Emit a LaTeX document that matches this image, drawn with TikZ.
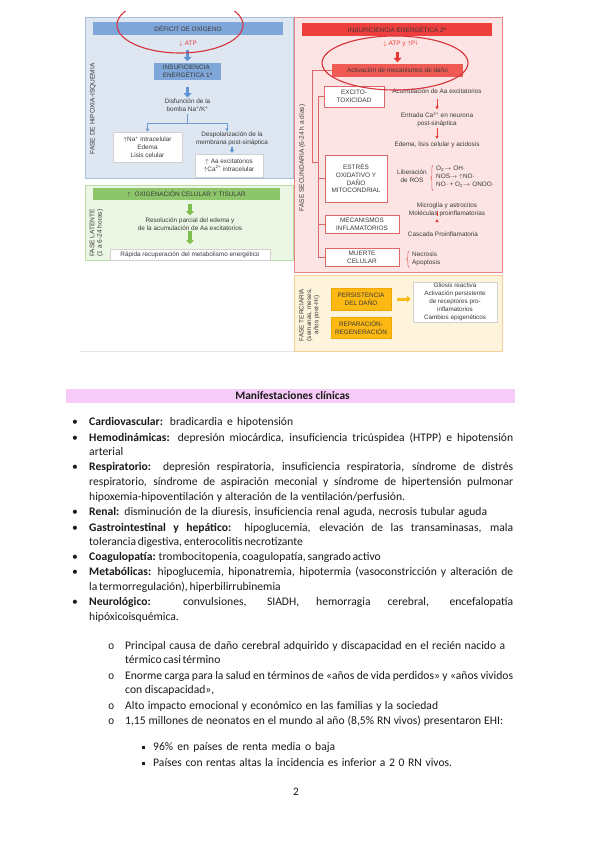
\documentclass[tikz,border=0pt]{standalone}
\usepackage{fontspec}
\setmainfont{Carlito}
\newfontfamily\dfont{Liberation Sans}
\newfontfamily\monof{Liberation Mono}
\usetikzlibrary{arrows.meta,decorations.pathreplacing,calc}
\definecolor{bluePanel}{HTML}{DDE6F1}
\definecolor{blueBorder}{HTML}{A8BFDC}
\definecolor{blueBar}{HTML}{7FA6D8}
\definecolor{blueArrow}{HTML}{5E93D4}
\definecolor{blueLine}{HTML}{6D9DD4}
\definecolor{greenPanel}{HTML}{ECF6E4}
\definecolor{greenBorder}{HTML}{B8DCA2}
\definecolor{greenBar}{HTML}{8DC66A}
\definecolor{greenArrow}{HTML}{7DC04E}
\definecolor{pinkPanel}{HTML}{FCE4E4}
\definecolor{pinkBorder}{HTML}{E68585}
\definecolor{redBar}{HTML}{EF3E3E}
\definecolor{actRed}{HTML}{F05A55}
\definecolor{redText}{HTML}{E53935}
\definecolor{redLine}{HTML}{DD6666}
\definecolor{ellRed}{HTML}{D6333A}
\definecolor{tertPanel}{HTML}{FEF3DB}
\definecolor{tertBorder}{HTML}{F3CF97}
\definecolor{orangeBox}{HTML}{FCB813}
\definecolor{orangeBorder}{HTML}{F0A800}
\definecolor{txtc}{HTML}{3A3A3A}
\definecolor{bodyc}{HTML}{1A1A1A}
\definecolor{pinkBand}{HTML}{F7CBF7}
\begin{document}
\begin{tikzpicture}[x=1pt,y=-1pt,
  lbl/.style={font=\dfont\fontsize{6.4}{7.8}\selectfont, text=txtc, inner sep=0pt, align=center},
  bar/.style={lbl, minimum height=13pt},
  wbox/.style={lbl, draw=black!18, fill=white, line width=0.5pt},
  rwbox/.style={lbl, draw=redLine, fill=white, line width=0.6pt},
  obox/.style={lbl, draw=orangeBorder, fill=orangeBox, line width=0.5pt},
  bigarr/.style={line width=3.2pt, -{Triangle[width=8pt,length=4.5pt]}},
  thinarr/.style={line width=0.6pt, -{Triangle[width=3.2pt,length=3pt]}},
  rbrace/.style={redLine, line width=0.6pt, decorate, decoration={brace, amplitude=2.2pt}},
  ln/.style={anchor=west, inner sep=0pt, text height=8pt, text depth=2.2pt, font=\fontsize{11.6}{13}\selectfont, text=bodyc},
  bul/.style={ln},
  obul/.style={ln, font=\monof\fontsize{10.5}{12}\selectfont},
]
\useasboundingbox (0,0) rectangle (599,848);
\fill[white] (0,0) rectangle (599,848);

% ---------------- figure -----------------
\draw[black!10, line width=0.6pt] (80,351.5) -- (294,351.5);

% blue panel
\draw[fill=bluePanel, draw=blueBorder, line width=0.6pt] (85,17) rectangle (293,178);
\node[bar, fill=blueBar, minimum width=190pt] (def) at (188,28.5) {DÉFICIT DE OXÍGENO};
\node[lbl, text=redText] (atp1) at (188,44) {$\downarrow$ ATP};
\node[bar, fill=blueBar, minimum width=67pt, minimum height=17pt, align=left] (ins1) at (187.5,71.5) {INSUFICIENCIA\\ENERGÉTICA 1ª};
\draw[bigarr, blueArrow, shorten <=3.5pt, shorten >=1.5pt] (atp1.south -| ins1.north) -- (ins1.north);
\node[lbl] (disf) at (187.5,105.5) {Disfunción de la\\bomba Na\textsuperscript{+}/K\textsuperscript{+}};
\draw[bigarr, blueArrow, shorten <=6.5pt, shorten >=1.5pt] (ins1.south) -- (ins1.south |- disf.north);
\node[wbox, minimum width=69pt, minimum height=30pt] (lbox) at (147.5,147) {$\uparrow$Na\textsuperscript{+} intracelular\\Edema\\Lisis celular};
\node[lbl] (desp) at (232,138.5) {Despolarización de la\\membrana post-sináptica};
\coordinate (bj) at (187.5,123);
\coordinate (bjr) at (227,123);
\draw[blueLine, line width=0.6pt, shorten <=2pt] (disf.south) -- (bj);
\draw[blueLine, line width=0.6pt] (bj -| lbox.north) -- (bjr);
\draw[thinarr, blueLine] (bj -| lbox.north) -- (lbox.north);
\draw[thinarr, blueLine] (bjr) -- (bjr |- desp.north);
\node[wbox, minimum width=68pt, minimum height=23pt] (rbx) at (229,165.5) {$\uparrow$ Aa excitatorios\\$\uparrow$Ca\textsuperscript{2+} intracelular};
\draw[blueArrow, line width=1.4pt, -{Triangle[width=4.5pt,length=3pt]}, shorten <=1pt, shorten >=1pt] (desp.south) -- (desp.south |- rbx.north);
\node[lbl, rotate=90, font=\dfont\fontsize{6.6}{8}\selectfont] (fh) at (93,109) {FASE DE HIPOXIA-ISQUEMIA};

% green panel
\draw[fill=greenPanel, draw=greenBorder, line width=0.6pt] (85,185) rectangle (293,260.5);
\node[bar, fill=greenBar, minimum width=187pt, minimum height=12pt] (oxi) at (186.5,194) {$\uparrow$\ \ OXIGENACIÓN CELULAR Y TISULAR};
\node[lbl] (resol) at (190,224.5) {Resolución parcial del edema y\\de la acumulación de Aa excitatorios};
\node[wbox, minimum width=160pt, minimum height=11pt] (rap) at (190,254.5) {Rápida recuperación del metabolismo energético};
\draw[bigarr, greenArrow, shorten <=4pt, shorten >=2.5pt] (oxi.south -| resol.north) -- (resol.north);
\draw[bigarr, greenArrow, shorten <=0.5pt, shorten >=4.5pt] (resol.south) -- (rap.north);
\node[lbl, rotate=90, font=\dfont\fontsize{6.6}{7.6}\selectfont] (fl) at (96.5,233) {FASE LATENTE\\(1 a 6-24 horas)};

% pink panel
\draw[fill=pinkPanel, draw=pinkBorder, line width=0.6pt] (294,17) rectangle (502,272);
\node[bar, fill=redBar, minimum width=190pt] (ins2) at (397,29.5) {INSUFICIENCIA ENERGÉTICA 2ª};
\node[lbl, text=redText] (atp2) at (400,44) {$\downarrow$ ATP y $\uparrow$Pi};
\node[bar, fill=actRed, minimum width=131pt] (act) at (397.5,70.5) {Activación de mecanismos de daño};
\draw[bigarr, redText, shorten <=5pt, shorten >=1.5pt] (atp2.south -| act.north) -- (act.north);
\node[rwbox, minimum width=60pt, minimum height=21pt] (exc) at (354,96.5) {EXCITO-\\TOXICIDAD};
\node[rwbox, minimum width=62pt, minimum height=47pt] (est) at (356,178.5) {ESTRÉS\\OXIDATIVO Y\\DAÑO\\MITOCONDRIAL};
\node[rwbox, minimum width=74pt, minimum height=18pt] (meca) at (362,224) {MECANISMOS\\INFLAMATORIOS};
\node[rwbox, minimum width=74pt, minimum height=18pt] (muer) at (362,257) {MUERTE\\CELULAR};
\coordinate (ko) at (312,162);
\coordinate (bjoin) at (318,162);
\draw[redLine, line width=0.6pt] (act.west) -| (ko) -- (bjoin);
\draw[redLine, line width=0.6pt] (exc.west) -- (exc.west -| bjoin) -- (muer.west -| bjoin) -- (muer.west);
\draw[redLine, line width=0.6pt] (est.west) -- (est.west -| bjoin);
\draw[redLine, line width=0.6pt] (meca.west) -- (meca.west -| bjoin);

\node[lbl] (acum) at (437,91) {Acumulación de Aa excitatorios};
\node[lbl] (entr) at (437,119.5) {Entrada Ca\textsuperscript{2+} en neurona\\post-sináptica};
\node[lbl] (edem) at (437,145) {Edema, lisis celular y acidosis};
\draw[thinarr, redText, shorten <=5pt, shorten >=2.5pt] (acum.south) -- (entr.north);
\draw[thinarr, redText, shorten <=1pt, shorten >=3pt] (entr.south) -- (edem.north);

\node[lbl] (lib) at (412,176.5) {Liberación\\de ROS};
\node[lbl, align=left, anchor=west] (ros) at (436,177) {O\textsubscript{2}$\rightarrow$ OH·\\NOS$\rightarrow$ $\uparrow$NO·\\NO· + O\textsubscript{2}$\rightarrow$ ONOO·};
\draw[rbrace] ($(ros.south west)+(-3,3)$) -- ($(ros.north west)+(-3,-1)$);

\node[lbl] (micro) at (447,209.5) {Microglía y astrocitos\\Moléculas proinflamatorias};
\node[lbl] (casc) at (443,234.5) {Cascada Proinflamatoria};
\draw[thinarr, redText, shorten <=1pt, shorten >=2.5pt] (micro.south -| acum.south) -- (micro.south -| acum.south |- casc.north);

\node[lbl, align=left, anchor=west] (necr) at (412,259) {Necrosis\\Apoptosis};
\draw[rbrace] ($(necr.south west)+(-3,1.5)$) -- ($(necr.north west)+(-3,-1)$);
\node[lbl, rotate=90, font=\dfont\fontsize{6.6}{8}\selectfont] (fs) at (302,158) {FASE SECUNDARIA (6-24 h a días)};

% ellipses
\begin{scope}
\clip (0,12) rectangle (599,848);
\draw[ellRed, line width=1.1pt] (180,25) ellipse [x radius=63, y radius=28];
\end{scope}
\draw[ellRed, line width=1.1pt] (395,63) ellipse [x radius=73, y radius=27];

% tertiary panel
\draw[fill=tertPanel, draw=tertBorder, line width=0.6pt] (294,275) rectangle (502,351);
\node[obox, minimum width=60pt, minimum height=22pt] (pers) at (361,299) {PERSISTENCIA\\DEL DAÑO};
\node[obox, minimum width=60pt, minimum height=21pt] (rep) at (361,327.5) {REPARACIÓN-\\REGENERACIÓN};
\node[wbox, minimum width=84pt, minimum height=40pt, font=\dfont\fontsize{6.3}{7.9}\selectfont] (glio) at (455,302) {Gliosis reactiva\\Activación persistente\\de receptores pro-\\inflamatorios\\Cambios epigenéticos};
\draw[orangeBox, line width=3pt, -{Triangle[width=6.5pt,length=4pt]}, shorten <=6pt, shorten >=2pt] (pers.east) -- (glio.west |- pers.east);
\node[lbl, rotate=90, font=\dfont\fontsize{6.4}{7.4}\selectfont] (ft) at (309.5,315) {FASE TERCIARIA\\(semanas, meses,\\años post-HI)};

% ---------------- text -----------------
\fill[pinkBand] (66,389) rectangle (515,403);
\node[font=\bfseries\fontsize{11.4}{13}\selectfont, text=bodyc, inner sep=0pt] (tit) at (292.5,396) {Manifestaciones clínicas};

\node[bul] (u1) at (72,423) {•};
\node[ln] (l1) at (89,423) {\makebox[204pt][s]{\textbf{Cardiovascular:} bradicardia e hipotensión}};
\node[bul] (u2) at (72,439) {•};
\node[ln] (l2) at (89,439) {\makebox[424pt][s]{\textbf{Hemodinámicas:} depresión miocárdica, insuficiencia tricúspidea (HTPP) e hipotensión}};
\node[ln] (l3) at (89,453) {arterial};
\node[bul] (u3) at (72,468) {•};
\node[ln] (l4) at (89,468) {\makebox[424pt][s]{\textbf{Respiratorio:} depresión respiratoria, insuficiencia respiratoria, síndrome de distrés}};
\node[ln] (l5) at (89,483) {\makebox[424pt][s]{respiratorio, síndrome de aspiración meconial y síndrome de hipertensión pulmonar}};
\node[ln] (l6) at (89,498) {\makebox[316pt][s]{hipoxemia-hipoventilación y alteración de la ventilación/perfusión.}};
\node[bul] (u4) at (72,513) {•};
\node[ln] (l7) at (89,513) {\makebox[398pt][s]{\textbf{Renal:} disminución de la diuresis, insuficiencia renal aguda, necrosis tubular aguda}};
\node[bul] (u5) at (72,529) {•};
\node[ln] (l8) at (89,529) {\makebox[424pt][s]{\textbf{Gastrointestinal y hepático:} hipoglucemia, elevación de las transaminasas, mala}};
\node[ln] (l9) at (89,543) {\makebox[191pt][s]{tolerancia digestiva, enterocolitis necrotizante}};
\node[bul] (u6) at (72,558) {•};
\node[ln] (l10) at (89,558) {\makebox[238pt][s]{\textbf{Coagulopatía:} trombocitopenia, coagulopatía, sangrado activo}};
\node[bul] (u7) at (72,573) {•};
\node[ln] (l11) at (89,573) {\makebox[424pt][s]{\textbf{Metabólicas:} hipoglucemia, hiponatremia, hipotermia (vasoconstricción y alteración de}};
\node[ln] (l12) at (89,588) {\makebox[173pt][s]{la termorregulación), hiperbilirrubinemia}};
\node[bul] (u8) at (72,603) {•};
\node[ln] (l13) at (89,603) {\makebox[424pt][s]{\textbf{Neurológico:} convulsiones, SIADH, hemorragia cerebral, encefalopatía}};
\node[ln] (l14) at (89,618) {hipóxicoisquémica.};

\node[obul] (o1) at (108,647) {o};
\node[ln] (s1) at (125,647) {\makebox[380pt][s]{Principal causa de daño cerebral adquirido y discapacidad en el recién nacido a}};
\node[ln] (s2) at (125,661) {\makebox[80pt][s]{térmico casi término}};
\node[obul] (o2) at (108,677) {o};
\node[ln] (s3) at (125,677) {\makebox[388pt][s]{Enorme carga para la salud en términos de «años de vida perdidos» y «años vividos}};
\node[ln] (s4) at (125,691) {con discapacidad»,};
\node[obul] (o3) at (108,707) {o};
\node[ln] (s5) at (125,707) {\makebox[313pt][s]{Alto impacto emocional y económico en las familias y la sociedad}};
\node[obul] (o4) at (108,722) {o};
\node[ln] (s6) at (125,722) {\makebox[378pt][s]{1,15 millones de neonatos en el mundo al año (8,5\% RN vivos) presentaron EHI:}};

\fill[bodyc] (141.5,746) rectangle (144.5,749) coordinate (q1);
\node[ln] (t1) at (153,748) {\makebox[182pt][s]{96\% en países de renta media o baja}};
\fill[bodyc] (141.5,762) rectangle (144.5,765) coordinate (q2);
\node[ln] (t2) at (153,764) {\makebox[299pt][s]{Países con rentas altas la incidencia es inferior a 2 0 RN vivos.}};

\node[font=\fontsize{11.4}{13}\selectfont, text=bodyc, inner sep=0pt] (pg) at (296,792) {2};
\end{tikzpicture}
\end{document}
